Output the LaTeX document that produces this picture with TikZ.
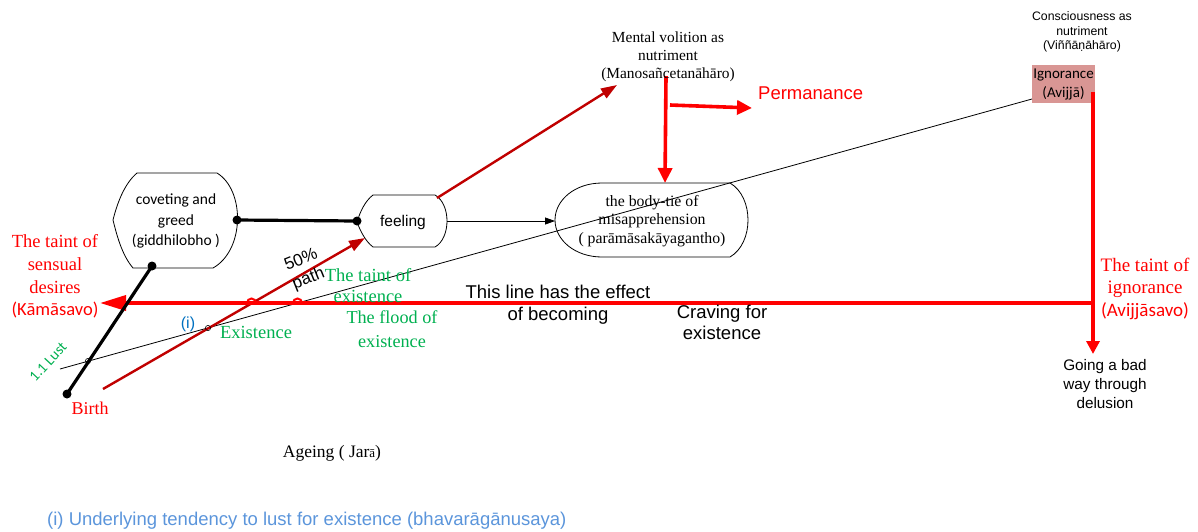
\documentclass[tikz,border=0pt]{standalone}
\usepackage{fontspec}
\setmainfont{Liberation Serif}
\newfontfamily\arial{Liberation Sans}
\newfontfamily\calibri{Carlito}
\usetikzlibrary{arrows.meta}
\definecolor{rd}{HTML}{FF0000}
\definecolor{drd}{HTML}{C00000}
\definecolor{grn}{HTML}{00B050}
\definecolor{blu}{HTML}{0070C0}
\definecolor{lblu}{HTML}{5B95DB}
\definecolor{pinkbox}{HTML}{D99694}
\newcommand{\fsz}[2]{\fontsize{#1}{#2}\selectfont}
\tikzset{
  outline/.style={draw=black, line width=0.8pt, line join=round},
  thickblk/.style={line width=3.2pt, black},
  blkdot/.style={circle, fill=black, inner sep=0pt, minimum size=9pt},
  redline/.style={line width=3.6pt, rd},
  redarrow/.style={line width=3.6pt, rd, -{Triangle[length=15pt,width=14pt]}},
  darkred/.style={line width=2.4pt, drd, -{Triangle[length=16pt,width=11pt]}},
  thinline/.style={line width=0.8pt, black},
  hop/.style={line width=0.6pt, black},
  redhop/.style={line width=2pt, rd},
  lbl/.style={inner sep=0pt, align=center},
}
\begin{document}
\begin{tikzpicture}[x=1pt,y=-1pt]
\useasboundingbox (0,0) rectangle (1198,531);

% ---- shapes
\draw[outline] (137,173) -- (217,173) .. controls (245,190) and (245,250) .. (213,268) -- (133,268)
  .. controls (122,255) and (117,236) .. (113,220) .. controls (117,204) and (124,184) .. (137,173) -- cycle;
\node[lbl, font={\calibri\fsz{15.5}{20.5}}] (cov) at (176,221) {coveting and\\greed\\(giddhilobho )};

\draw[outline] (373,195) -- (435,195) .. controls (451,204) and (451,238) .. (435,247) -- (373,247)
  .. controls (365,241) and (360,230) .. (357,222) .. controls (360,212) and (365,201) .. (373,195) -- cycle;
\node[lbl, font={\arial\fsz{15.5}{18}}] (feel) at (403,222) {feeling};

\draw[outline] (602,183) -- (730,183) .. controls (754,197) and (754,243) .. (730,257) -- (602,257)
  .. controls (575,257) and (555,240) .. (555,220) .. controls (555,200) and (575,183) .. (602,183) -- cycle;
\node[lbl, font={\fsz{15.8}{18.5}}] (bt) at (652,221) {the body-tie of\\misapprehension\\( parāmāsakāyagantho)};

\node[lbl, fill=pinkbox, minimum width=63pt, minimum height=38pt, font={\calibri\fsz{15}{19}}] (ign) at (1063.5,84) {Ignorance\\(Avijjā)};

% ---- named points
\coordinate (covR) at (237,220);
\coordinate (covB) at (152,266);
\coordinate (birthP) at (67,394);
\coordinate (feelL) at (357,221);
\coordinate (feelR) at (447,221);
\coordinate (btL) at (555,221);
\coordinate (dr0) at (103,389);
\coordinate (dr1) at (365,238);
\coordinate (dr2) at (437,198);
\coordinate (dr3) at (617,85);
\coordinate (ls) at (60,369);
\coordinate (le) at (1032,99);
\coordinate (mvs) at (666,76);
\coordinate (mve) at (665,183);
\coordinate (pa) at (670,105);
\coordinate (pb) at (752,108);
\coordinate (iv) at (1093,92);
\coordinate (ivE) at (1093,354);
\coordinate (hr) at (1093,303);
\coordinate (hrE) at (100,303);

% ---- connectors
\draw[thinline] (ls) -- (le);
\draw[darkred] (dr0) -- (dr1);
\draw[darkred] (dr2) -- (dr3);
\draw[redarrow] (mvs) -- (mve);
\draw[redarrow] (pa) -- (pb);
\draw[redarrow, -{Triangle[length=13pt,width=13pt]}] (iv) -- (ivE);
\draw[redline, -{Triangle[length=26pt,width=15pt]}] (hr) -- (hrE);
\draw[thickblk] (covB) -- (birthP);
\draw[thickblk] (covR) -- (feelL);
\node[blkdot] (d1) at (covB) {};
\node[blkdot] (d2) at (birthP) {};
\node[blkdot] (d3) at (covR) {};
\node[blkdot] (d4) at (feelL) {};
\draw[thinline, -{Triangle[length=10pt,width=7pt]}] (feelR) -- (btL);

% ---- line jumps
\draw[hop] (88,361) circle[radius=2.6];
\draw[hop] (208,328) circle[radius=2.6];
\draw[redhop] (247,303) arc[start angle=180,end angle=360,radius=4.5];
\draw[redhop] (293,303) arc[start angle=180,end angle=360,radius=4.5];

% ---- labels
\node[lbl, font={\fsz{15.4}{18}}] (mv) at (668,57) {Mental volition as\\nutriment\\(Manosañcetanāhāro)};
\node[lbl, anchor=west, text=rd, font={\arial\fsz{18.5}{20}}] (perm) at (758,93) {Permanance};
\node[lbl, font={\arial\fsz{12.3}{14.5}}] (cons) at (1082,32) {Consciousness as\\nutriment\\(Viññāṇāhāro)};
\node[lbl, font={\arial\fsz{15.3}{19}}] (bad) at (1105,384) {Going a bad\\way through\\delusion};
\node[lbl, text=rd, font={\fsz{19}{22.5}}] (ti) at (1145,288.5) {The taint of\\ignorance\\{\calibri (Avijjāsavo)}};
\node[lbl, text=rd, font={\fsz{18.5}{22.7}}] (ts) at (55,276.5) {The taint of\\sensual\\desires\\{\calibri (Kāmāsavo)}};
\node[lbl, text=rd, font={\fsz{18}{20}}] (birth) at (90,408) {Birth};
\node[lbl, text=grn, rotate=47, font={\calibri\fsz{15}{16}}] (lust) at (48,362) {1.1 Lust};
\node[lbl, text=blu, font={\arial\fsz{16}{18}}] (ii) at (188,324) {(i)};
\node[lbl, text=grn, font={\fsz{18.5}{20}}] (ex) at (256,332) {Existence};
\node[lbl, text=grn, font={\fsz{18.5}{21.5}}] (tex) at (368,285.5) {The taint of\\existence};
\node[lbl, text=grn, font={\fsz{18.2}{24}}] (flood) at (392,329.5) {The flood of\\existence};
\node[lbl, rotate=22, font={\arial\fsz{17}{20}}] (half) at (305,270) {50\%\\path};
\node[lbl, font={\arial\fsz{18.5}{22}}] (eff) at (558,305) {This line has the effect\\of becoming};
\node[lbl, font={\arial\fsz{18.5}{21.5}}] (crav) at (722,322.5) {Craving for\\existence};
\node[lbl, font={\fsz{17.5}{18}}] (age) at (332,453) {Ageing ( Jar{\fsz{13}{14}ā})};
\node[lbl, anchor=west, text=lblu, font={\arial\fsz{18.5}{20}}] (foot) at (47,521) {(i) Underlying tendency to lust for existence (bhavarāgānusaya)};
\end{tikzpicture}
\end{document}
